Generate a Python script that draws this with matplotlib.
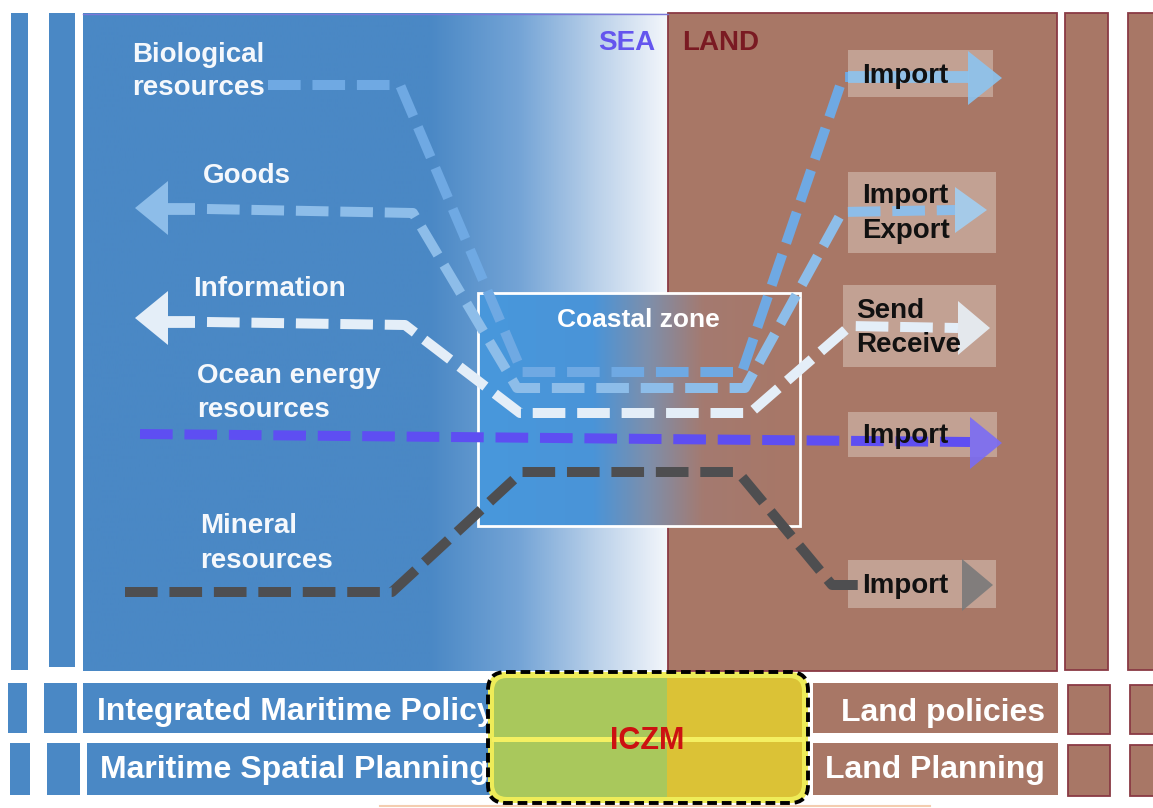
import numpy as np
import matplotlib
matplotlib.use("Agg")
import matplotlib.pyplot as plt
from matplotlib.patches import Rectangle, FancyBboxPatch, Polygon
from matplotlib.colors import LinearSegmentedColormap

plt.rcParams['font.family'] = ['Liberation Sans', 'DejaVu Sans']
plt.rcParams['lines.scale_dashes'] = False

# --- flows (picture pixel coordinates) ---
flow_names = ['Biological resources', 'Goods', 'Information', 'Ocean energy resources', 'Mineral resources']
flow_x = [
    [268, 400, 522, 742, 843, 850],
    [207, 413, 517, 745, 842, 955],
    [207, 405, 520, 750, 850, 958],
    [140, 970],
    [125, 392, 522, 738, 832, 860],
]
flow_y = [
    [85, 85, 372, 372, 77, 77],
    [209, 213, 388, 388, 212, 210],
    [322, 325, 413, 413, 326, 328],
    [434, 442],
    [592, 592, 472, 472, 585, 585],
]
flow_colors = ['#6fa9e3', '#8dbde9', '#e4eef8', '#5e4ef2', '#4e4e50']
head_colors = ['#8cc4f0', '#a2cff2', '#e8f0f8', '#7a6cf5', '#7a7a7a']
# right arrow heads: tip x, tip y, base x, half height
head_tip_x = [1002, 987, 990, 1002, 993]
head_tip_y = [78, 210, 328, 443, 585]
head_base_x = [968, 955, 958, 970, 962]
head_half = [27, 23, 27, 26, 26]
# left arrow heads (Goods, Information)
left_idx = [1, 2]
left_tip_x = [135, 135]
left_tip_y = [208, 318]
left_base_x = [168, 168]
left_half = [27, 27]

# left labels: text, x, baseline
left_labels = ['Biological', 'resources', 'Goods', 'Information', 'Ocean energy', 'resources', 'Mineral', 'resources']
left_label_x = [132, 132, 203, 193, 197, 197, 200, 200]
left_label_y = [62, 95, 183, 296, 383, 417, 533, 568]

# right boxes: x0, y0, x1, y1 and labels
box_x0 = [848, 848, 843, 848, 848]
box_y0 = [50, 172, 285, 412, 560]
box_x1 = [993, 996, 996, 997, 996]
box_y1 = [97, 253, 367, 457, 608]
box_labels = ['Import', 'Import', 'Export', 'Send', 'Receive', 'Import', 'Import']
box_label_x = [862, 862, 862, 856, 856, 862, 862]
box_label_y = [83, 203, 238, 318, 352, 443, 593]

# bottom policy rows
sea_rows = ['Integrated Maritime Policy', 'Maritime Spatial Planning']
land_rows = ['Land policies', 'Land Planning']
row_y0 = [683, 743]
row_y1 = [733, 795]

BLUE = '#4a88c5'
BROWN = '#a87766'
MAROON = '#8a3a44'

fig = plt.figure(figsize=(11.53, 8.08), dpi=100)
ax = fig.add_axes([0, 0, 1, 1])
ax.set_xlim(0, 1153)
ax.set_ylim(808, 0)
ax.axis('off')

def rect(x0, y0, x1, y1, fc, ec='none', lw=0, z=1, **kw):
    r = Rectangle((x0, y0), x1 - x0, y1 - y0, facecolor=fc, edgecolor=ec, linewidth=lw, zorder=z, **kw)
    ax.add_patch(r)
    return r

# side bars
rect(11, 13, 28, 670, BLUE)
rect(49, 13, 75, 667, BLUE)
rect(1065, 13, 1108, 670, BROWN, MAROON, 1.3)
rect(1128, 13, 1165, 670, BROWN, MAROON, 1.3)

# sea panel with fade to white
sea_cmap = LinearSegmentedColormap.from_list('sea', [
    (0.0, BLUE), ((430 - 83) / 585, BLUE), ((520 - 83) / 585, '#74a4d6'),
    ((600 - 83) / 585, '#bcd2ea'), (1.0, '#f3f6fb')])
ax.imshow(np.linspace(0, 1, 512)[None, :], extent=(83, 668, 671, 13), cmap=sea_cmap,
          aspect='auto', interpolation='bilinear', zorder=1)
ax.plot([83, 668], [13.5, 13.5], color='#7c78d8', lw=1, zorder=1.5)
# land panel
rect(668, 13, 1057, 671, BROWN, MAROON, 1.3)

# coastal zone
coast_cmap = LinearSegmentedColormap.from_list('coast', [
    (0.0, '#4898dc'), (0.36, '#4a94d8'), (0.53, '#7e8fab'), (0.7, '#a47a70'), (1.0, BROWN)])
ax.imshow(np.linspace(0, 1, 512)[None, :], extent=(478, 800, 526, 293), cmap=coast_cmap,
          aspect='auto', interpolation='bilinear', zorder=1.6)
rect(478, 293, 800, 526, 'none', 'white', 2, z=2.5)
ax.text(638, 327, 'Coastal zone', color='white', fontsize=19, fontweight='bold', ha='center', zorder=4)

ax.text(655, 50, 'SEA', color='#6455ee', fontsize=20, fontweight='bold', ha='right', zorder=4)
ax.text(682, 50, 'LAND', color='#7a1a22', fontsize=20, fontweight='bold', ha='left', zorder=4)

# right label boxes
for x0, y0, x1, y1 in zip(box_x0, box_y0, box_x1, box_y1):
    rect(x0, y0, x1, y1, '#c2a193', z=2)

# flows
for i in range(len(flow_names)):
    ax.plot(flow_x[i], flow_y[i], color=flow_colors[i], lw=7.2, dashes=(23.5, 8.5),
            dash_capstyle='butt', dash_joinstyle='round', zorder=3)
    tx, ty, bx, hh = head_tip_x[i], head_tip_y[i], head_base_x[i], head_half[i]
    ax.add_patch(Polygon([[bx, ty - hh], [tx, ty], [bx, ty + hh]], closed=True,
                         facecolor=head_colors[i], edgecolor='none', alpha=0.9, zorder=3.2))
# solid shaft of first import arrow
ax.plot([848, 969], [77, 77], color=head_colors[0], lw=8.5, solid_capstyle='butt', alpha=0.9, zorder=3.1)

for k, i in enumerate(left_idx):
    tx, ty, bx, hh = left_tip_x[k], left_tip_y[k], left_base_x[k], left_half[k]
    ax.add_patch(Polygon([[bx, ty - hh], [tx, ty], [bx, ty + hh]], closed=True,
                         facecolor=flow_colors[i], edgecolor='none', zorder=3.2))
    ax.plot([bx - 1, 195], [flow_y[i][0], flow_y[i][0]], color=flow_colors[i], lw=8.5,
            solid_capstyle='butt', zorder=3.2)

for t, x, y in zip(left_labels, left_label_x, left_label_y):
    ax.text(x, y, t, color='#f5f8fc', fontsize=20, fontweight='bold', zorder=4)
for t, x, y in zip(box_labels, box_label_x, box_label_y):
    ax.text(x, y, t, color='#111111', fontsize=20, fontweight='bold', zorder=4)

# bottom rows
left_small = [[(8, 27), (44, 77)], [(10, 30), (47, 80)]]
right_small = [[(1068, 1110), (1130, 1165)], [(1068, 1110), (1130, 1165)]]
sea_bar_x0 = [83, 87]
for r in range(2):
    y0, y1 = row_y0[r], row_y1[r]
    for a, b in left_small[r]:
        rect(a, y0, b, y1, BLUE)
    for a, b in right_small[r]:
        rect(a, y0 + 2, b, y1 + 1, BROWN, MAROON, 1.3)
    rect(sea_bar_x0[r], y0, 500, y1, BLUE)
    rect(813, y0, 1058, y1, BROWN)
ax.text(97, 720, sea_rows[0], color='white', fontsize=23, fontweight='bold', zorder=2)
ax.text(100, 778, sea_rows[1], color='white', fontsize=23, fontweight='bold', zorder=2)
ax.text(1045, 721, land_rows[0], color='white', fontsize=23, fontweight='bold', ha='right', zorder=2)
ax.text(1045, 778, land_rows[1], color='white', fontsize=23, fontweight='bold', ha='right', zorder=2)

# faint line at bottom
ax.plot([380, 930], [806, 806], color='#f4cdb0', lw=1.5, zorder=1)

# ICZM box
outer = FancyBboxPatch((488, 672), 320, 131, boxstyle='round,pad=0,rounding_size=18',
                       facecolor='#eeec58', edgecolor='none', zorder=5)
ax.add_patch(outer)
inner = FancyBboxPatch((494, 678), 308, 119, boxstyle='round,pad=0,rounding_size=13',
                       transform=ax.transData)
g = rect(494, 678, 667, 797, '#a9c85c', z=5.1)
y_ = rect(667, 678, 802, 797, '#dbc236', z=5.1)
g.set_clip_path(inner)
y_.set_clip_path(inner)
ax.plot([494, 802], [739, 739], color='#f4f062', lw=3.6, zorder=5.2)
edge = FancyBboxPatch((488, 672), 320, 131, boxstyle='round,pad=0,rounding_size=18',
                      facecolor='none', edgecolor='black', lw=2.8, linestyle=(0, (7, 3.5)), zorder=5.3)
ax.add_patch(edge)
ax.text(647, 749, 'ICZM', color='#cc1111', fontsize=22, fontweight='bold', ha='center', zorder=5.4)

fig.savefig('out.png', dpi=100, facecolor='white')
